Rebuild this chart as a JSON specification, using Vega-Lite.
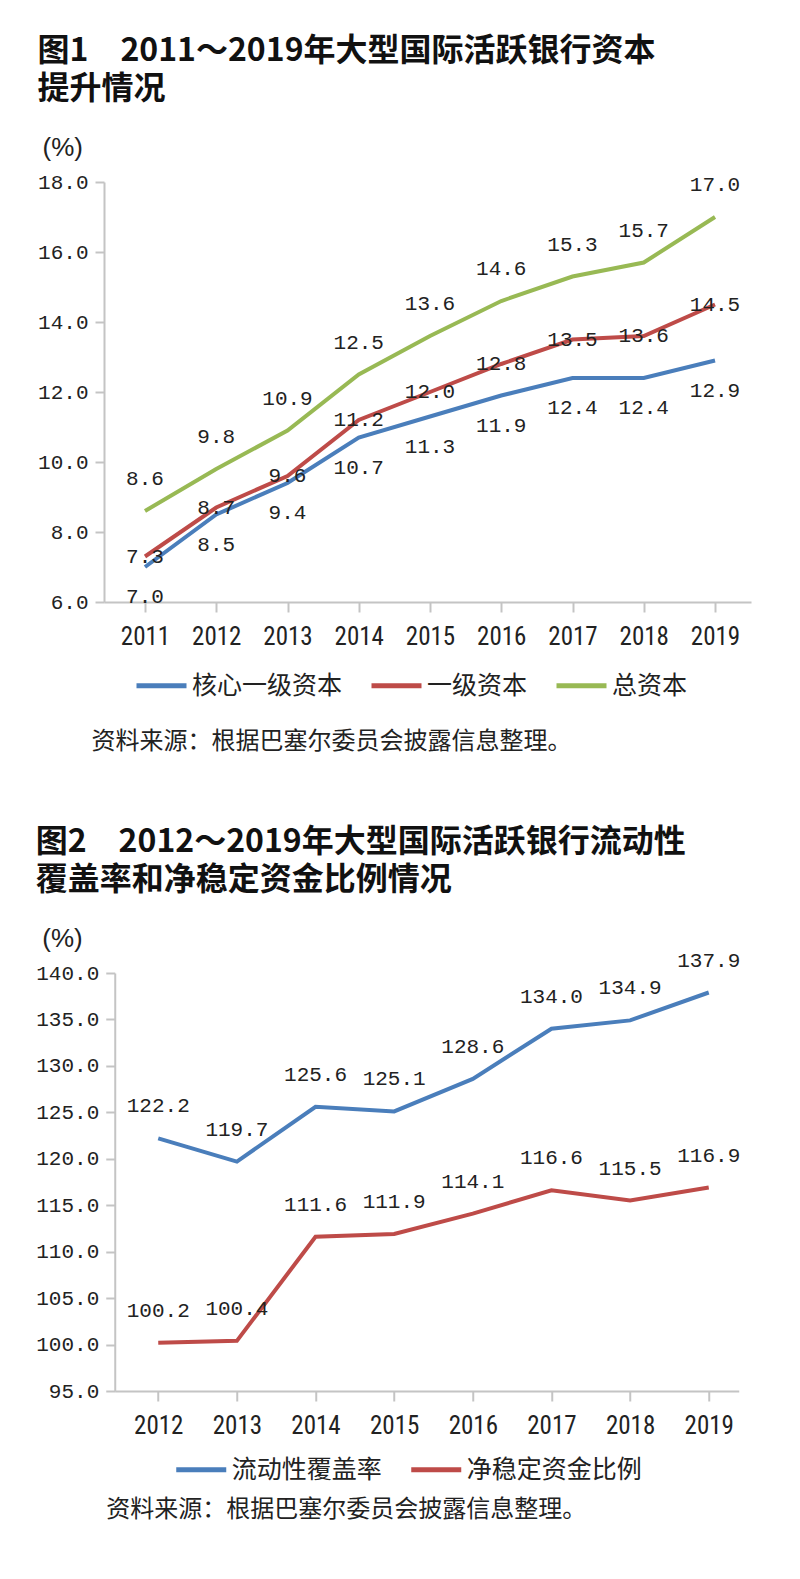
{
  "$schema": "https://vega.github.io/schema/vega-lite/v6.json",
  "background": "white",
  "padding": {"left": 35, "top": 35, "right": 10, "bottom": 10},
  "spacing": 73,
  "center": true,
  "resolve": {"scale": {"color": "independent"}, "legend": {"color": "independent"}},
  "datasets": {
    "capital": [
      {"year": 2011, "series": "核心一级资本", "value": 7.0},
      {"year": 2012, "series": "核心一级资本", "value": 8.5},
      {"year": 2013, "series": "核心一级资本", "value": 9.4},
      {"year": 2014, "series": "核心一级资本", "value": 10.7},
      {"year": 2015, "series": "核心一级资本", "value": 11.3},
      {"year": 2016, "series": "核心一级资本", "value": 11.9},
      {"year": 2017, "series": "核心一级资本", "value": 12.4},
      {"year": 2018, "series": "核心一级资本", "value": 12.4},
      {"year": 2019, "series": "核心一级资本", "value": 12.9},
      {"year": 2011, "series": "一级资本", "value": 7.3},
      {"year": 2012, "series": "一级资本", "value": 8.7},
      {"year": 2013, "series": "一级资本", "value": 9.6},
      {"year": 2014, "series": "一级资本", "value": 11.2},
      {"year": 2015, "series": "一级资本", "value": 12.0},
      {"year": 2016, "series": "一级资本", "value": 12.8},
      {"year": 2017, "series": "一级资本", "value": 13.5},
      {"year": 2018, "series": "一级资本", "value": 13.6},
      {"year": 2019, "series": "一级资本", "value": 14.5},
      {"year": 2011, "series": "总资本", "value": 8.6},
      {"year": 2012, "series": "总资本", "value": 9.8},
      {"year": 2013, "series": "总资本", "value": 10.9},
      {"year": 2014, "series": "总资本", "value": 12.5},
      {"year": 2015, "series": "总资本", "value": 13.6},
      {"year": 2016, "series": "总资本", "value": 14.6},
      {"year": 2017, "series": "总资本", "value": 15.3},
      {"year": 2018, "series": "总资本", "value": 15.7},
      {"year": 2019, "series": "总资本", "value": 17.0}
    ],
    "liquidity": [
      {"year": 2012, "series": "流动性覆盖率", "value": 122.2},
      {"year": 2013, "series": "流动性覆盖率", "value": 119.7},
      {"year": 2014, "series": "流动性覆盖率", "value": 125.6},
      {"year": 2015, "series": "流动性覆盖率", "value": 125.1},
      {"year": 2016, "series": "流动性覆盖率", "value": 128.6},
      {"year": 2017, "series": "流动性覆盖率", "value": 134.0},
      {"year": 2018, "series": "流动性覆盖率", "value": 134.9},
      {"year": 2019, "series": "流动性覆盖率", "value": 137.9},
      {"year": 2012, "series": "净稳定资金比例", "value": 100.2},
      {"year": 2013, "series": "净稳定资金比例", "value": 100.4},
      {"year": 2014, "series": "净稳定资金比例", "value": 111.6},
      {"year": 2015, "series": "净稳定资金比例", "value": 111.9},
      {"year": 2016, "series": "净稳定资金比例", "value": 114.1},
      {"year": 2017, "series": "净稳定资金比例", "value": 116.6},
      {"year": 2018, "series": "净稳定资金比例", "value": 115.5},
      {"year": 2019, "series": "净稳定资金比例", "value": 116.9}
    ]
  },
  "vconcat": [
    {
      "width": 647,
      "height": 420,
      "title": {"text": ["图1　2011～2019年大型国际活跃银行资本", "提升情况"]},
      "data": {"name": "capital"},
      "encoding": {
        "x": {
          "field": "year", "type": "quantitative",
          "scale": {"domain": [2010.4246, 2019.505], "nice": false, "zero": false},
          "axis": {
            "values": [2011, 2012, 2013, 2014, 2015, 2016, 2017, 2018, 2019],
            "format": "d",
            "title": "资料来源：根据巴塞尔委员会披露信息整理。",
            "titleX": -13, "titleY": 139, "titleAlign": "left", "titleBaseline": "middle", "titleAnchor": null
          }
        },
        "y": {
          "field": "value", "type": "quantitative",
          "scale": {"domain": [6, 18], "nice": false, "zero": false},
          "axis": {
            "values": [6, 8, 10, 12, 14, 16, 18],
            "format": ".1f",
            "title": "(%)",
            "titleX": -62, "titleY": -35
          }
        }
      },
      "layer": [
        {
          "mark": {"type": "line", "strokeWidth": 4},
          "encoding": {
            "color": {
              "field": "series", "type": "nominal",
              "scale": {"domain": ["核心一级资本", "一级资本", "总资本"], "range": ["#4A7EBB", "#BE4B48", "#98B954"]},
              "legend": {"orient": "none", "legendX": 30, "legendY": 476}
            }
          }
        },
        {
          "transform": [{"filter": "datum.series === '总资本'"}],
          "mark": {"type": "text", "dy": -32},
          "encoding": {"text": {"field": "value", "type": "quantitative", "format": ".1f"}}
        },
        {
          "transform": [{"filter": "datum.series === '一级资本'"}],
          "mark": {"type": "text", "dy": 0},
          "encoding": {"text": {"field": "value", "type": "quantitative", "format": ".1f"}}
        },
        {
          "transform": [{"filter": "datum.series === '核心一级资本'"}],
          "mark": {"type": "text", "dy": 30},
          "encoding": {"text": {"field": "value", "type": "quantitative", "format": ".1f"}}
        }
      ]
    },
    {
      "width": 624,
      "height": 418,
      "title": {"text": ["图2　2012～2019年大型国际活跃银行流动性", "覆盖率和净稳定资金比例情况"]},
      "data": {"name": "liquidity"},
      "encoding": {
        "x": {
          "field": "year", "type": "quantitative",
          "scale": {"domain": [2011.447, 2019.3815], "nice": false, "zero": false},
          "axis": {
            "values": [2012, 2013, 2014, 2015, 2016, 2017, 2018, 2019],
            "format": "d",
            "title": "资料来源：根据巴塞尔委员会披露信息整理。",
            "titleX": -9, "titleY": 118, "titleAlign": "left", "titleBaseline": "middle", "titleAnchor": null
          }
        },
        "y": {
          "field": "value", "type": "quantitative",
          "scale": {"domain": [95, 140], "nice": false, "zero": false},
          "axis": {
            "values": [95, 100, 105, 110, 115, 120, 125, 130, 135, 140],
            "format": ".1f",
            "title": "(%)",
            "titleX": -73, "titleY": -35
          }
        }
      },
      "layer": [
        {
          "mark": {"type": "line", "strokeWidth": 4},
          "encoding": {
            "color": {
              "field": "series", "type": "nominal",
              "scale": {"domain": ["流动性覆盖率", "净稳定资金比例"], "range": ["#4A7EBB", "#BE4B48"]},
              "legend": {"orient": "none", "legendX": 59, "legendY": 469}
            }
          }
        },
        {
          "mark": {"type": "text", "dy": -32},
          "encoding": {"text": {"field": "value", "type": "quantitative", "format": ".1f"}}
        }
      ]
    }
  ],
  "config": {
    "view": {"stroke": null},
    "title": {
      "font": "Noto Sans CJK SC", "fontSize": 32, "fontWeight": "bold", "color": "#111",
      "anchor": "start", "lineHeight": 38, "offset": 28, "frame": "bounds"
    },
    "axis": {
      "grid": false,
      "domainColor": "#c4c4c4", "domainWidth": 2,
      "tickColor": "#c4c4c4", "tickWidth": 2,
      "labelColor": "#222",
      "titleColor": "#222", "titleFontWeight": "normal"
    },
    "axisX": {
      "tickSize": 10, "labelPadding": 12,
      "labelFont": "Liberation Sans Narrow, Roboto Condensed, Liberation Sans", "labelFontSize": 25,
      "titleFont": "Noto Sans CJK SC", "titleFontSize": 24
    },
    "axisY": {
      "tickSize": 9, "labelPadding": 7,
      "labelFont": "Liberation Mono", "labelFontSize": 21,
      "titleFont": "Liberation Sans", "titleFontSize": 26,
      "titleAngle": 0, "titleAlign": "left", "titleBaseline": "middle"
    },
    "text": {"font": "Liberation Mono", "fontSize": 21, "color": "#222", "baseline": "middle", "align": "center"},
    "legend": {
      "direction": "horizontal", "title": null,
      "symbolType": "stroke", "symbolSize": 2500, "symbolStrokeWidth": 5,
      "labelFont": "Noto Sans CJK SC", "labelFontSize": 25, "labelColor": "#222",
      "labelLimit": 400, "labelOffset": 3, "columnPadding": 18
    }
  }
}
